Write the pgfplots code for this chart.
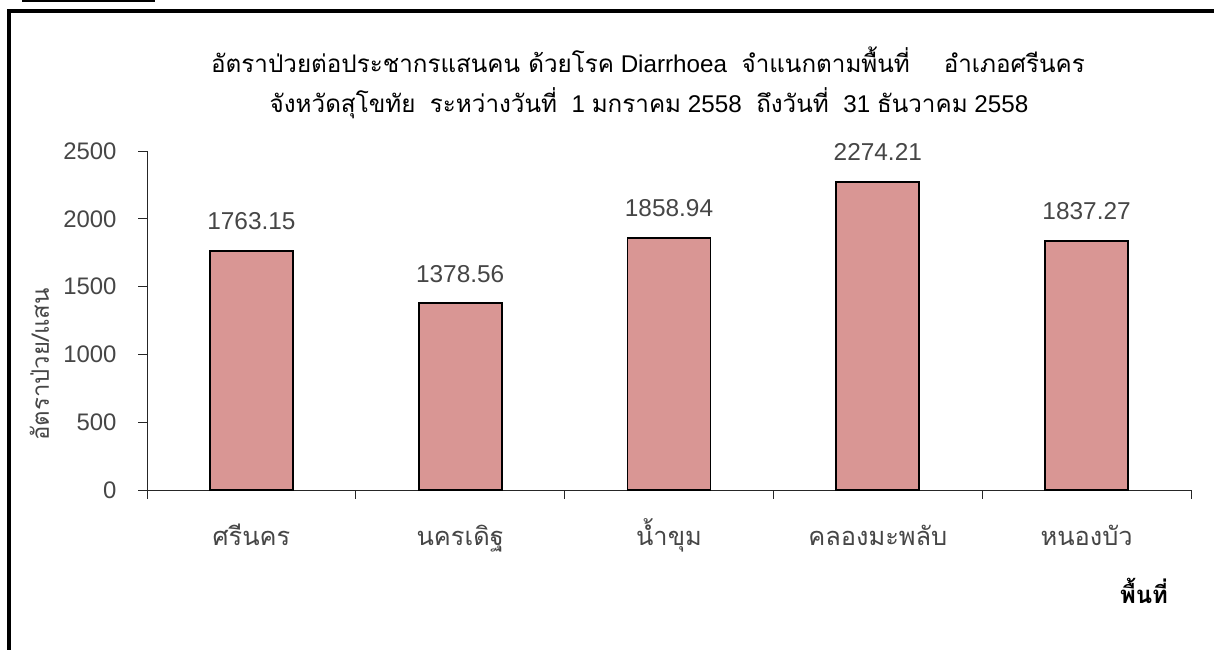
\documentclass[border=0pt]{standalone}
\usepackage{fontspec}
\setmainfont{Liberation Sans}
\newfontfamily\thaifont[Script=Thai]{Loma}
\usepackage{pgfplots}
\pgfplotsset{compat=1.18}
\definecolor{barfill}{RGB}{217,150,148}
\definecolor{lblgrey}{RGB}{70,70,70}
\newcommand\thai[1]{{\thaifont #1}}
\begin{document}
\begin{tikzpicture}[x=1bp,y=1bp]
\path[use as bounding box] (0,0) rectangle (1214,650);
\fill[white] (0,0) rectangle (1214,650);
\draw[line width=3.8bp] (9,0) -- (9,639) -- (1214,639);
\draw[line width=1.8bp] (22,649.3) -- (155,649.3);
\node[anchor=base, font=\fontsize{24.3}{28}\selectfont] at (648,577)
  {\thai{อัตราป่วยต่อประชากรแสนคน ด้วยโรค} Diarrhoea\hspace{0.6em}\thai{จำแนกตามพื้นที่}\hspace{1.4em}\thai{อำเภอศรีนคร}};
\node[anchor=base, font=\fontsize{24.3}{28}\selectfont] at (649,537)
  {\thai{จังหวัดสุโขทัย}\hspace{0.6em}\thai{ระหว่างวันที่}\hspace{0.6em}1 \thai{มกราคม} 2558\hspace{0.6em}\thai{ถึงวันที่}\hspace{0.6em}31 \thai{ธันวาคม} 2558};
\begin{axis}[
  at={(147bp,160bp)}, anchor=south west,
  scale only axis, width=1044bp, height=339bp,
  xmin=0.5, xmax=5.5, ymin=0, ymax=2500,
  axis x line*=bottom, axis y line*=left,
  axis line style={-, black!85, line width=0.8bp},
  tick style={black!85, line width=0.8bp},
  tick align=outside,
  major tick length=9bp,
  ytick={0,500,1000,1500,2000,2500},
  yticklabel style={font=\fontsize{24}{28}\selectfont, text=lblgrey, xshift=-18bp},
  /pgf/number format/assume math mode=true,
  /pgf/number format/1000 sep={},
  xtick={0.5,1.5,2.5,3.5,4.5,5.5},
  xticklabels={},
  extra x ticks={1,2,3,4,5},
  extra x tick labels={\thai{ศรีนคร},\thai{นครเดิฐ},\thai{น้ำขุม},\thai{คลองมะพลับ},\thai{หนองบัว}},
  extra x tick style={major tick length=0pt, tick style={draw=none},
    xticklabel style={font=\fontsize{25.5}{28}\selectfont, text=lblgrey, anchor=base, yshift=-56bp}},
  ylabel={\thai{อัตราป่วย/แสน}},
  ylabel style={at={(axis description cs:-0.103,0.37)}, anchor=center, rotate=0, font=\fontsize{24}{28}\selectfont, text=lblgrey},
  xlabel={\thai{\bfseries พื้นที่}},
  xlabel style={at={(axis description cs:0.955,-0.335)}, anchor=base, font=\fontsize{24}{28}\selectfont},
  ybar, bar width=83bp,
  nodes near coords,
  nodes near coords style={font=\fontsize{24.5}{28}\selectfont, text=lblgrey, anchor=base, yshift=21bp,
    /pgf/number format/fixed, /pgf/number format/fixed zerofill, /pgf/number format/precision=2},
  clip=false,
]
\addplot[fill=barfill, draw=black, line width=1.8bp] coordinates {
  (1,1763.15) (2,1378.56) (3,1858.94) (4,2274.21) (5,1837.27)};
\end{axis}
\end{tikzpicture}
\end{document}
